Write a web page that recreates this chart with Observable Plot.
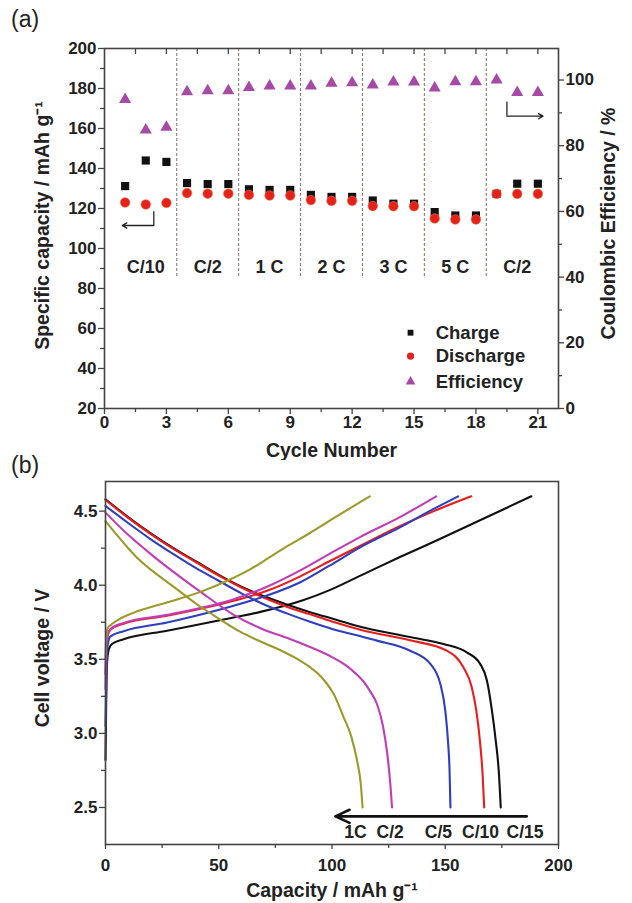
<!DOCTYPE html>
<html>
<head>
<meta charset="utf-8">
<script src="https://cdn.jsdelivr.net/npm/d3@7"></script>
<script src="https://cdn.jsdelivr.net/npm/@observablehq/plot@0.6"></script>
<style>
  body { margin: 0; background: white; }
  #wrap { position: relative; width: 632px; height: 903px; overflow: hidden; font-family: 'Liberation Sans', Arial, sans-serif; }
  .tag { position: absolute; left: 11px; font-size: 23px; font-family: 'Liberation Sans', Arial, sans-serif; color: #222; }
  #pa, #pb { position: absolute; left: 0; }
  #pa { top: 0; } #pb { top: 460px; }
</style>
</head>
<body>
<div id="wrap">
  <div id="pa"></div>
  <div id="pb"></div>
  <div class="tag" style="top:6px">(a)</div>
  <div class="tag" style="top:452px">(b)</div>
</div>
<script>
// ---------- Panel (a) data ----------
const cycles = [1,2,3,4,5,6,7,8,9,10,11,12,13,14,15,16,17,18,19,20,21];
const charge = [131.2,144,143.3,132.7,132.2,132.2,129.6,129.3,129.3,126.8,125.8,125.8,124,122.4,122.4,118.2,116.5,116.5,127.3,132.4,132.4];
const discharge = [123,122,122.8,127.7,127.4,127.4,126.8,126.5,126.5,124.2,123.8,123.8,121.2,121.1,121.1,115,114.5,114.5,127.3,127.3,127.3];
const efficiency = [94.1,84.8,85.6,96.4,96.7,96.7,97.7,98.2,98.2,98.2,99,99.2,98.5,99.4,99.4,97.6,99.5,99.5,100,96.2,96.2];
const rateLabels = ["C/10","C/2","1 C","2 C","3 C","5 C","C/2"];
const rateCenters = [2,5,8,11,14,17,20];
const separators = [3.5,6.5,9.5,12.5,15.5,18.5];
const xTicksA = [0,3,6,9,12,15,18,21];
const yTicksA = [20,40,60,80,100,120,140,160,180,200];
const effTicks = [0,20,40,60,80,100];
const seriesNames = ["Charge","Discharge","Efficiency"];

// ---------- Panel (b) data: [capacity mAh/g, voltage V] ----------
const chargeC15 = [[0,2.82],[0.3,3.2],[0.7,3.48],[1.5,3.57],[3,3.605],[8,3.635],[27.2,3.693],[56.6,3.782],[68.4,3.82],[87.5,3.9],[98.7,3.965],[114,4.075],[130,4.19],[149.5,4.325],[167,4.45],[188,4.6]];
const chargeC10 = [[0,3.4],[0.4,3.6],[1,3.66],[2.2,3.7],[8,3.74],[27.2,3.794],[56.6,3.895],[71.3,3.962],[86,4.06],[98.7,4.16],[113,4.27],[128,4.385],[145,4.5],[161.5,4.6]];
const chargeC5  = [[0,3.05],[0.4,3.4],[1,3.6],[2.2,3.655],[8,3.69],[27.2,3.749],[56.6,3.862],[71.3,3.93],[86,4.02],[98.7,4.13],[113,4.26],[130,4.39],[143,4.5],[155.7,4.6]];
const chargeC2  = [[0,3.3],[0.4,3.6],[1,3.67],[2.2,3.705],[8,3.745],[27.2,3.8],[56.6,3.905],[71.3,3.99],[86,4.1],[98.7,4.21],[113,4.33],[130,4.46],[146,4.6]];
const charge1C  = [[0,3.5],[0.4,3.66],[1,3.71],[2.2,3.73],[6,3.77],[12.5,3.815],[27,3.883],[42,3.955],[56.6,4.05],[64,4.108],[70,4.165],[81,4.27],[90.4,4.354],[99,4.436],[116.7,4.6]];
const dischargeC15 = [[0,4.58],[10,4.46],[20,4.35],[30,4.25],[40,4.16],[50,4.07],[60,3.99],[70,3.925],[80,3.87],[90,3.82],[100,3.775],[112.5,3.72],[134.5,3.65],[149.2,3.603],[159.5,3.547],[165.4,3.469],[168.4,3.357],[170.6,3.155],[172.3,2.95],[173.6,2.75],[174.5,2.5]];
const dischargeC10 = [[0,4.575],[10,4.455],[20,4.345],[30,4.245],[40,4.155],[50,4.065],[60,3.985],[70,3.915],[80,3.855],[90,3.805],[100,3.755],[112.5,3.7],[134.5,3.628],[150.7,3.558],[158,3.446],[161.7,3.312],[163.7,3.155],[165.3,2.95],[166.5,2.72],[167.2,2.5]];
const dischargeC5  = [[0,4.535],[10,4.42],[20,4.31],[30,4.21],[40,4.115],[50,4.03],[60,3.945],[70,3.87],[80,3.81],[90,3.755],[100,3.705],[110,3.665],[119.8,3.626],[134.5,3.558],[143.4,3.469],[147.8,3.335],[150,3.155],[151.2,2.95],[151.9,2.75],[152.3,2.5]];
const dischargeC2  = [[0,4.49],[10,4.34],[20,4.21],[30,4.09],[42,3.955],[56.6,3.8],[68.4,3.71],[80,3.645],[90,3.585],[100,3.515],[106,3.46],[110,3.41],[113.9,3.35],[117,3.28],[119.8,3.2],[122.5,3.05],[124.5,2.85],[125.8,2.65],[126.5,2.5]];
const discharge1C  = [[0,4.433],[5,4.34],[10,4.25],[15,4.17],[20,4.105],[30,3.99],[40,3.875],[50,3.775],[59,3.69],[68.4,3.62],[78,3.555],[85,3.5],[90,3.45],[94,3.4],[97.5,3.34],[100.7,3.267],[105.1,3.11],[108.5,2.98],[111,2.82],[112.7,2.66],[113.5,2.5]];
const rateNamesB = ["1C","C/2","C/5","C/10","C/15"];
const rateLabelX = [110.4,125.7,147,165.6,185.2];
const xTicksB = [0,50,100,150,200];
const yTicksB = [2.5,3.0,3.5,4.0,4.5];

// ---------- shared styles ----------
const FONT = "'Liberation Sans', Arial, Helvetica, sans-serif";
const svgStyle = {fontFamily: FONT, fontSize: "17px", fontWeight: "bold", background: "white", color: "#222", overflow: "visible"};
const frameColor = "#444";
const titleOpts = {fontSize: 19.5, fontWeight: "bold", fill: "#222", textAnchor: "middle", lineAnchor: "middle"};

// ---------- Panel (a) ----------
const effMax = 109.6;
const toLeft = p => 20 + p * (180 / effMax);
const rowsA = cycles.map((c, i) => ({cycle: c, charge: charge[i], discharge: discharge[i], eff: efficiency[i]}));
const minorXA = d3.range(1.5, 22, 3);
const topTicksA = d3.range(1.5, 22, 1.5);
const minorYA = d3.range(30, 200, 20);
const minorEff = d3.range(10, 110, 20);
const legendY = [57.9, 46.2, 33.4];

const plotA = Plot.plot({
  width: 632, height: 460,
  marginTop: 48, marginBottom: 52, marginLeft: 104, marginRight: 74,
  style: svgStyle,
  x: {domain: [0, 22]},
  y: {domain: [20, 200]},
  marks: [
    Plot.ruleX(separators, {x: d => d, y1: 86, y2: 200, stroke: "#8a7c72", strokeWidth: 1.1, strokeDasharray: "3,2"}),
    Plot.text(rateLabels, {x: (d, i) => rateCenters[i], y: 90.8, text: d => d, fontSize: 18, fontWeight: "bold", fill: "#222"}),
    Plot.dot(rowsA, {x: "cycle", y: "charge", symbol: "square", r: 4.6, fill: "#111"}),
    Plot.dot(rowsA, {x: "cycle", y: "discharge", symbol: "circle", r: 4.8, fill: "#e4211b", stroke: "#f2703c", strokeWidth: 0.6}),
    Plot.dot(rowsA, {x: "cycle", y: d => toLeft(d.eff), symbol: "triangle", r: 4.5, fill: "#a74aa6"}),
    // legend
    Plot.dot([seriesNames[0]], {x: 14.83, y: legendY[0], symbol: "square", r: 3.3, fill: "#111"}),
    Plot.dot([seriesNames[1]], {x: 14.83, y: legendY[1], symbol: "circle", r: 3.6, fill: "#e4211b"}),
    Plot.dot([seriesNames[2]], {x: 14.83, y: legendY[2], symbol: "triangle", r: 3.6, fill: "#a74aa6"}),
    Plot.text(seriesNames, {x: 16.05, y: (d, i) => legendY[i], text: d => d, textAnchor: "start", fontSize: 18.5, fontWeight: "bold", fill: "#222"}),
    // direction arrows
    Plot.ruleX([2.39], {x: d => d, y1: 111.5, y2: 118.4, stroke: "#222", strokeWidth: 1.3}),
    Plot.arrow([0], {x1: 2.39, y1: 111.5, x2: 0.86, y2: 111.5, stroke: "#222", strokeWidth: 1.3, headLength: 6}),
    Plot.ruleX([19.5], {x: d => d, y1: toLeft(89), y2: toLeft(93.2), stroke: "#222", strokeWidth: 1.3}),
    Plot.arrow([0], {x1: 19.5, y1: toLeft(89), x2: 21.25, y2: toLeft(89), stroke: "#222", strokeWidth: 1.3, headLength: 6}),
    // axes
    Plot.axisX({ticks: xTicksA, tickSize: 6, tickPadding: 1, label: null, stroke: frameColor, strokeWidth: 1.3}),
    Plot.axisX({ticks: minorXA, tickSize: 4, tickFormat: () => "", label: null, stroke: frameColor, strokeWidth: 1.3}),
    Plot.ruleX(topTicksA, {x: d => d, y1: 200, y2: 197, stroke: frameColor, strokeWidth: 1.3}),
    Plot.axisY({ticks: yTicksA, tickSize: 6, tickPadding: 2, label: null, stroke: frameColor, strokeWidth: 1.3}),
    Plot.axisY({ticks: minorYA, tickSize: 4, tickFormat: () => "", label: null, stroke: frameColor, strokeWidth: 1.3}),
    Plot.axisY({anchor: "right", ticks: effTicks.map(toLeft), tickFormat: d => String(Math.round((d - 20) * effMax / 180)), tickSize: 5, tickPadding: 2, label: null, stroke: frameColor, strokeWidth: 1.3}),
    Plot.axisY({anchor: "right", ticks: minorEff.map(toLeft), tickFormat: () => "", tickSize: 3, label: null, stroke: frameColor, strokeWidth: 1.3}),
    Plot.frame({stroke: frameColor, strokeWidth: 1.6}),
    // axis titles
    Plot.text(["Specific capacity / mAh g\u207B\u00B9"], {frameAnchor: "left", dx: -62, dy: -3, rotate: -90, text: d => d, ...titleOpts}),
    Plot.text(["Coulombic Efficiency / %"], {frameAnchor: "right", dx: 50, dy: -5, rotate: -90, text: d => d, ...titleOpts}),
    Plot.text(["Cycle Number"], {frameAnchor: "bottom", dy: 42, text: d => d, ...titleOpts})
  ]
});
document.getElementById("pa").appendChild(plotA);

// ---------- Panel (b) ----------
const curves = [
  {color: "#111111", pts: chargeC15}, {color: "#111111", pts: dischargeC15},
  {color: "#ea1d1d", pts: chargeC10}, {color: "#ea1d1d", pts: dischargeC10},
  {color: "#2f3fbe", pts: chargeC5},  {color: "#2f3fbe", pts: dischargeC5},
  {color: "#c13db6", pts: chargeC2},  {color: "#c13db6", pts: dischargeC2},
  {color: "#9b9a2b", pts: charge1C},  {color: "#9b9a2b", pts: discharge1C}
];
const plotB = Plot.plot({
  width: 632, height: 443,
  marginTop: 21, marginBottom: 59, marginLeft: 105, marginRight: 74,
  style: svgStyle,
  x: {domain: [0, 200]},
  y: {domain: [2.25, 4.7]},
  marks: [
    ...curves.map(c => Plot.line(c.pts, {x: d => d[0], y: d => d[1], stroke: c.color, strokeWidth: 2.1, curve: "monotone-x"})),
    Plot.arrow([0], {x1: 186, y1: 2.44, x2: 101.5, y2: 2.44, stroke: "#111", strokeWidth: 2.6, headLength: 9, headAngle: 50}),
    Plot.text(rateNamesB, {x: (d, i) => rateLabelX[i], y: 2.335, text: d => d, fontSize: 17.5, fontWeight: "bold", fill: "#222"}),
    Plot.axisX({ticks: xTicksB, tickSize: 5, tickPadding: 9, label: null, stroke: frameColor, strokeWidth: 1.3}),
    Plot.axisX({ticks: [25,75,125,175], tickSize: 4, tickFormat: () => "", label: null, stroke: frameColor, strokeWidth: 1.3}),
    Plot.axisY({ticks: yTicksB, tickSize: 6, tickPadding: 2, tickFormat: d3.format(".1f"), label: null, stroke: frameColor, strokeWidth: 1.3}),
    Plot.axisY({ticks: [2.75,3.25,3.75,4.25], tickSize: 4, tickFormat: () => "", label: null, stroke: frameColor, strokeWidth: 1.3}),
    Plot.frame({stroke: frameColor, strokeWidth: 1.6}),
    Plot.text(["Cell voltage / V"], {frameAnchor: "left", dx: -63, dy: -5, rotate: -90, text: d => d, ...titleOpts}),
    Plot.text(["Capacity / mAh g\u207B\u00B9"], {frameAnchor: "bottom", dy: 46, text: d => d, ...titleOpts})
  ]
});
document.getElementById("pb").appendChild(plotB);
</script>
</body>
</html>
